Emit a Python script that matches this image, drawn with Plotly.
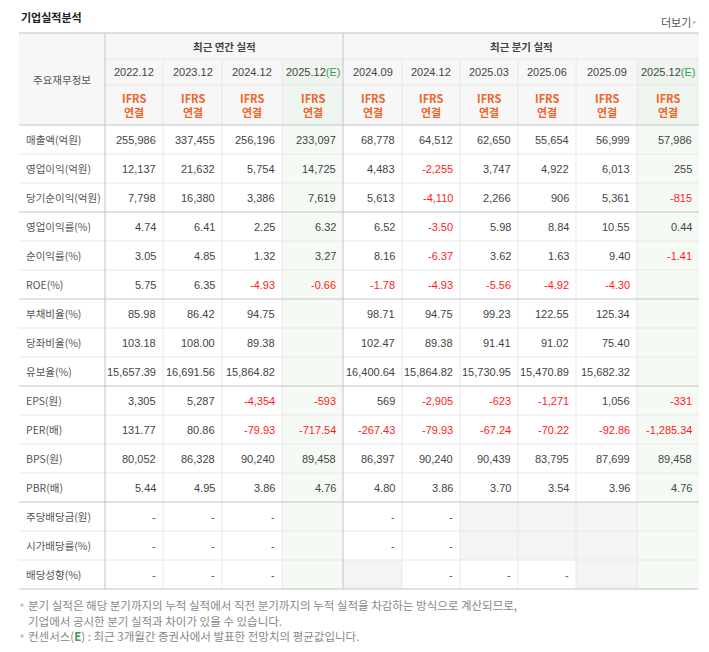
import plotly.graph_objects as go

TITLE = "기업실적분석"
MORE = "더보기"
CORNER = "주요재무정보"
ANNUAL_HEAD = "최근 연간 실적"
QUARTER_HEAD = "최근 분기 실적"
PERIODS = ["2022.12", "2023.12", "2024.12", "2025.12",
           "2024.09", "2024.12", "2025.03", "2025.06", "2025.09", "2025.12"]
ESTIMATE = [False, False, False, True, False, False, False, False, False, True]
BASIS = "IFRS<br>연결"

ROW_LABELS = ["매출액(억원)", "영업이익(억원)", "당기순이익(억원)", "영업이익률(%)", "순이익률(%)",
              "ROE(%)", "부채비율(%)", "당좌비율(%)", "유보율(%)", "EPS(원)", "PER(배)",
              "BPS(원)", "PBR(배)", "주당배당금(원)", "시가배당률(%)", "배당성향(%)"]
ROW_DECIMALS = [0, 0, 0, 2, 2, 2, 2, 2, 2, 0, 2, 0, 2, 0, 2, 2]

sales = [255986, 337455, 256196, 233097, 68778, 64512, 62650, 55654, 56999, 57986]
op_profit = [12137, 21632, 5754, 14725, 4483, -2255, 3747, 4922, 6013, 255]
net_profit = [7798, 16380, 3386, 7619, 5613, -4110, 2266, 906, 5361, -815]
op_margin = [4.74, 6.41, 2.25, 6.32, 6.52, -3.50, 5.98, 8.84, 10.55, 0.44]
net_margin = [3.05, 4.85, 1.32, 3.27, 8.16, -6.37, 3.62, 1.63, 9.40, -1.41]
roe = [5.75, 6.35, -4.93, -0.66, -1.78, -4.93, -5.56, -4.92, -4.30, None]
debt_ratio = [85.98, 86.42, 94.75, None, 98.71, 94.75, 99.23, 122.55, 125.34, None]
quick_ratio = [103.18, 108.00, 89.38, None, 102.47, 89.38, 91.41, 91.02, 75.40, None]
reserve_ratio = [15657.39, 16691.56, 15864.82, None, 16400.64, 15864.82, 15730.95, 15470.89, 15682.32, None]
eps = [3305, 5287, -4354, -593, 569, -2905, -623, -1271, 1056, -331]
per = [131.77, 80.86, -79.93, -717.54, -267.43, -79.93, -67.24, -70.22, -92.86, -1285.34]
bps = [80052, 86328, 90240, 89458, 86397, 90240, 90439, 83795, 87699, 89458]
pbr = [5.44, 4.95, 3.86, 4.76, 4.80, 3.86, 3.70, 3.54, 3.96, 4.76]
dps = ["-", "-", "-", None, "-", "-", None, None, None, None]
div_yield = ["-", "-", "-", None, "-", "-", None, None, None, None]
payout = ["-", "-", "-", None, None, "-", "-", "-", None, None]

ROWS = [sales, op_profit, net_profit, op_margin, net_margin, roe, debt_ratio, quick_ratio,
        reserve_ratio, eps, per, bps, pbr, dps, div_yield, payout]
GROUP_ENDS = [2, 5, 8, 12, 15]

NOTES = [
    "분기 실적은 해당 분기까지의 누적 실적에서 직전 분기까지의 누적 실적을 차감하는 방식으로 계산되므로,",
    "기업에서 공시한 분기 실적과 차이가 있을 수 있습니다.",
    "컨센서스(<b><span style='color:#3a9a5a'>E</span></b>) : 최근 3개월간 증권사에서 발표한 전망치의 평균값입니다.",
]

# layout geometry (page pixels); the page body has an 8px margin
PAGE_W, PAGE_H, PAD = 709, 652, 8
LEFT = 19
COL_W = [86, 58, 59, 60, 61, 59, 58, 58, 58, 61, 62]
TOP = 33
HEAD_H = [26, 26, 40]
ROW_H = 29

KO = "Noto Sans CJK KR"
NUM = "Liberation Sans, Noto Sans CJK KR"
GREEN = "#3a9a5a"
ORANGE = "#f0642a"
RED = "#ff1a1a"
MID_LINE = "#c4c4c4"
THIN_LINE = "#e8e8e8"

edges = [LEFT]
for w in COL_W:
    edges.append(edges[-1] + w)
RIGHT = edges[-1]
split = edges[5]
h1 = TOP + HEAD_H[0]
h2 = h1 + HEAD_H[1]
body_top = h2 + HEAD_H[2]
row_edges = [body_top + ROW_H * i for i in range(len(ROWS) + 1)]
bottom = row_edges[-1]

shapes = []
annotations = []


def rect(x0, y0, x1, y1, color):
    shapes.append(dict(type="rect", xref="x", yref="y", x0=x0, x1=x1, y0=y0, y1=y1,
                       fillcolor=color, line=dict(width=0), layer="below"))


def line(x0, y0, x1, y1, color):
    shapes.append(dict(type="line", xref="x", yref="y", x0=x0, x1=x1, y0=y0, y1=y1,
                       line=dict(color=color, width=1)))


def text(x, y, s, anchor="center", size=11, color="#333", family=KO):
    annotations.append(dict(x=x, y=y, xref="x", yref="y", text=s, showarrow=False,
                            xanchor=anchor, yanchor="middle", borderpad=0,
                            font=dict(size=size, color=color, family=family)))


# backgrounds
rect(LEFT, TOP, RIGHT, body_top, "#f7f7f7")
for c, est in enumerate(ESTIMATE):
    x0, x1 = edges[c + 1], edges[c + 2]
    if est:
        rect(x0, h1, x1, body_top, "#eef5ee")
        rect(x0, body_top, x1, bottom, "#f5faf5")
    else:
        for r, vals in enumerate(ROWS):
            if vals[c] is None:
                rect(x0, row_edges[r], x1, row_edges[r + 1], "#f4f4f4")

# thin grid
line(edges[1], h1, RIGHT, h1, THIN_LINE)
line(edges[1], h2, RIGHT, h2, THIN_LINE)
for r in range(1, len(ROWS)):
    if r - 1 not in GROUP_ENDS:
        line(LEFT, row_edges[r], RIGHT, row_edges[r], THIN_LINE)
for c in range(2, len(edges) - 1):
    if edges[c] != split:
        line(edges[c], h1, edges[c], bottom, THIN_LINE)

# medium lines
line(LEFT, TOP, RIGHT, TOP, MID_LINE)
line(LEFT, body_top, RIGHT, body_top, MID_LINE)
for g in GROUP_ENDS:
    line(LEFT, row_edges[g + 1], RIGHT, row_edges[g + 1], MID_LINE)
line(edges[1], TOP, edges[1], bottom, MID_LINE)
line(split, TOP, split, bottom, MID_LINE)

# title
text(LEFT + 1, 17, "<b>" + TITLE + "</b>", anchor="left", size=11, color="#222")
text(RIGHT - 7, 22, MORE, anchor="right", size=11, color="#555")
text(RIGHT - 1, 21, "▸", anchor="right", size=7, color="#bbb")

# header
text((LEFT + edges[1]) / 2, (TOP + body_top) / 2, CORNER, size=10.5, color="#555")
text((edges[1] + split) / 2, (TOP + h1) / 2, "<b>" + ANNUAL_HEAD + "</b>", size=10.5, color="#444")
text((split + RIGHT) / 2, (TOP + h1) / 2, "<b>" + QUARTER_HEAD + "</b>", size=10.5, color="#444")
for c, p in enumerate(PERIODS):
    xc = (edges[c + 1] + edges[c + 2]) / 2
    label = p + ("<span style='color:%s'>(E)</span>" % GREEN if ESTIMATE[c] else "")
    text(xc, (h1 + h2) / 2, label, size=11, color="#444", family=NUM)
    text(xc, (h2 + body_top) / 2, "<b>" + BASIS + "</b>", size=11, color=ORANGE)

# body
for r, vals in enumerate(ROWS):
    yc = (row_edges[r] + row_edges[r + 1]) / 2
    text(LEFT + 6, yc, ROW_LABELS[r], anchor="left", size=10.5, color="#555")
    for c, v in enumerate(vals):
        if v is None:
            continue
        if isinstance(v, str):
            s, col = v, "#555"
        else:
            s = f"{v:,.{ROW_DECIMALS[r]}f}"
            col = RED if v < 0 else "#444"
        text(edges[c + 2] - 6, yc, s, anchor="right", size=11, color=col, family=NUM)

# notes
note_y = [605, 621, 636]
for y, n in zip(note_y, NOTES):
    text(27, y, n, anchor="left", size=11.5, color="#888")

fig = go.Figure()
fig.add_trace(go.Scatter(x=[22, 22], y=[note_y[0], note_y[2]], mode="markers",
                         marker=dict(symbol="square", size=3, color="#c0c0c0"),
                         hoverinfo="skip", showlegend=False))
fig.update_layout(
    width=PAGE_W - 2 * PAD, height=PAGE_H - 2 * PAD,
    margin=dict(l=0, r=0, t=0, b=0),
    paper_bgcolor="white", plot_bgcolor="white",
    xaxis=dict(range=[PAD, PAGE_W - PAD], visible=False, fixedrange=True),
    yaxis=dict(range=[PAGE_H - PAD, PAD], visible=False, fixedrange=True),
    shapes=shapes, annotations=annotations,
    showlegend=False,
)
fig.write_html("out.html")
